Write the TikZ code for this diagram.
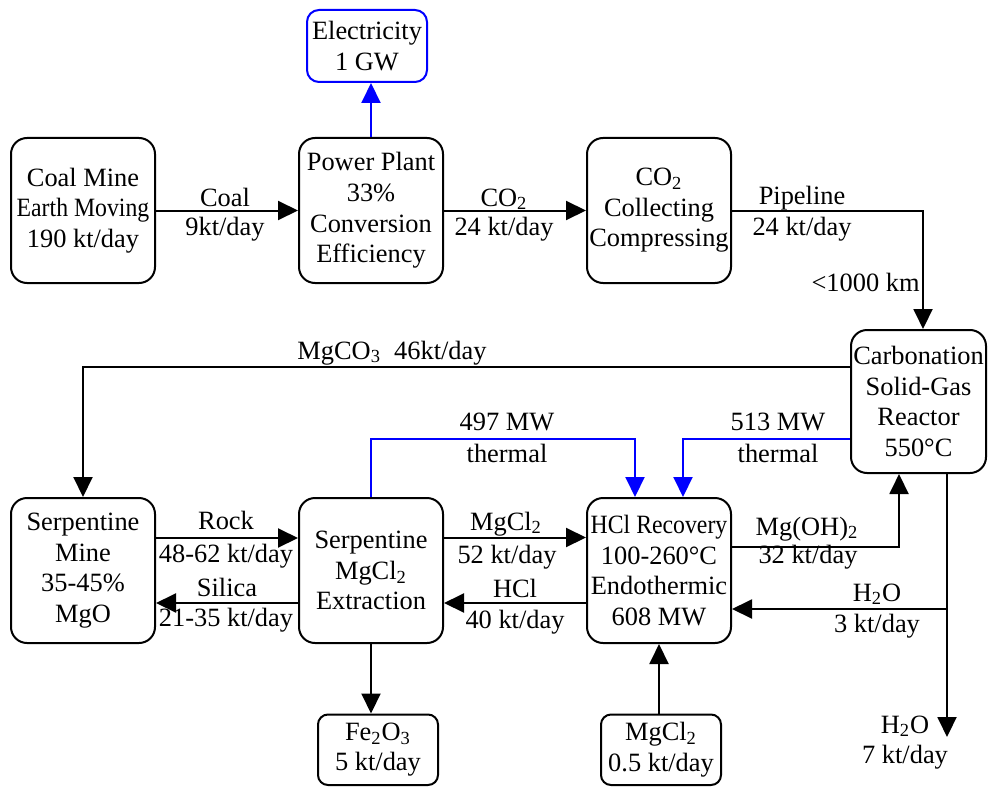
\documentclass[tikz,border=0pt]{standalone}
\usepackage{fontspec}
\setmainfont{Liberation Serif}
\usetikzlibrary{arrows.meta,calc}
\begin{document}
\begin{tikzpicture}[x=0.5pt,y=-0.5pt,
  font=\fontsize{13.2}{15.3}\selectfont,
  box/.style={draw, line width=1pt, rounded corners=8pt, align=center, inner sep=0pt, minimum width=72pt, minimum height=72.5pt},
  sbox/.style={draw, line width=1pt, rounded corners=5pt, align=center, inner sep=0pt, minimum width=60pt, minimum height=35.25pt},
  flow/.style={line width=1pt, -{Triangle[length=10pt,width=9.5pt]}},
  plain/.style={line width=1pt},
  heat/.style={flow, blue},
  lab/.style={anchor=base, inner sep=0pt}]
\useasboundingbox (0,0) rectangle (988,786);

% nodes
\node[sbox, draw=blue, rounded corners=6pt, minimum height=36pt] (elec) at (367,46) {Electricity\\1 GW};
\node[box] (coal) at (83,210.5) {Coal Mine\\\scalebox{0.9}[1]{Earth Moving}\\190 kt/day};
\node[box] (power) at (371,210.5) {Power Plant\\33\%\\Conversion\\Efficiency};
\node[box] (co2) at (659,210.5) {CO\textsubscript{2}\\Collecting\\Compressing};
\node[box, minimum width=67.5pt, minimum height=71.5pt] (carb) at (918.5,401.5) {Carbonation\\Solid-Gas\\Reactor\\550°C};
\node[box] (mine) at (83,570.5) {Serpentine\\Mine\\35-45\%\\MgO};
\node[box] (extr) at (371,570.5) {Serpentine\\MgCl\textsubscript{2}\\Extraction};
\node[box] (hcl) at (659,570.5) {\scalebox{0.9}[1]{HCl Recovery}\\100-260°C\\Endothermic\\608 MW};
\node[sbox] (fe) at (378,749.75) {Fe\textsubscript{2}O\textsubscript{3}\\5 kt/day};
\node[sbox] (mgb) at (661,749.75) {MgCl\textsubscript{2}\\0.5 kt/day};

% helper coordinates
\coordinate (pipe) at (923,210.5);
\coordinate (mgco) at (83,367);
\coordinate (t497) at (635,439);
\coordinate (t513) at (683,439);
\coordinate (rk) at (227,538);
\coordinate (si) at (227,603);
\coordinate (mg) at (515,537.5);
\coordinate (hc) at (515,603);
\coordinate (moh) at (899,547);
\coordinate (wj) at (947,609);
\coordinate (wend) at (947,737);

% connectors
\draw[heat] (power.north) -- (power.north |- elec.south);
\draw[flow] (coal.east) -- (power.west);
\draw[flow] (power.east) -- (co2.west);
\draw[flow] (co2.east) -- (pipe) -- (pipe |- carb.north);
\draw[flow] (mgco -| carb.west) -- (mgco) -- (mine.north);
\draw[heat] (extr.north) -- (extr.north |- t497) -- (t497) -- (t497 |- hcl.north);
\draw[heat] (t513 -| carb.west) -- (t513) -- (t513 |- hcl.north);
\draw[flow] (rk -| mine.east) -- (rk -| extr.west);
\draw[flow] (si -| extr.west) -- (si -| mine.east);
\draw[flow] (mg -| extr.east) -- (mg -| hcl.west);
\draw[flow] (hc -| hcl.west) -- (hc -| extr.east);
\draw[flow] (extr.south) -- (extr.south |- fe.north);
\draw[flow] (hcl.south |- mgb.north) -- (hcl.south);
\draw[flow] (moh -| hcl.east) -- (moh) -- (moh |- carb.south);
\draw[flow] (wj |- carb.south) -- (wend);
\draw[flow] (wj) -- (wj -| hcl.east);

% labels
\node[lab] (l1a) at (225,206) {Coal};
\node[lab] (l1b) at (225,235) {9kt/day};
\node[lab] (l2a) at (504,206) {CO\textsubscript{2}};
\node[lab] (l2b) at (504,235) {24 kt/day};
\node[lab] (l3a) at (802,205) {Pipeline};
\node[lab] (l3b) at (802,235) {24 kt/day};
\node[lab, anchor=base east] (l3c) at (920,291) {<1000 km};
\node[lab] (l4) at (392,359) {MgCO\textsubscript{3}\ \ 46kt/day};
\node[lab] (l5a) at (507,430) {497 MW};
\node[lab] (l5b) at (507,462) {thermal};
\node[lab] (l6a) at (778,430) {513 MW};
\node[lab] (l6b) at (778,462) {thermal};
\node[lab] (l7a) at (226,529) {Rock};
\node[lab] (l7b) at (226,562) {48-62 kt/day};
\node[lab] (l8a) at (227,596) {Silica};
\node[lab] (l8b) at (226,626) {21-35 kt/day};
\node[lab] (l9a) at (506,530) {MgCl\textsubscript{2}};
\node[lab] (l9b) at (507,563) {52 kt/day};
\node[lab] (l10a) at (515,597) {HCl};
\node[lab] (l10b) at (515,628) {40 kt/day};
\node[lab] (l11a) at (807,535) {Mg(OH)\textsubscript{2}};
\node[lab] (l11b) at (808,563) {32 kt/day};
\node[lab] (l12a) at (877,601) {H\textsubscript{2}O};
\node[lab] (l12b) at (877,632) {3 kt/day};
\node[lab] (l13a) at (905,733) {H\textsubscript{2}O};
\node[lab] (l13b) at (905,763) {7 kt/day};
\end{tikzpicture}
\end{document}
